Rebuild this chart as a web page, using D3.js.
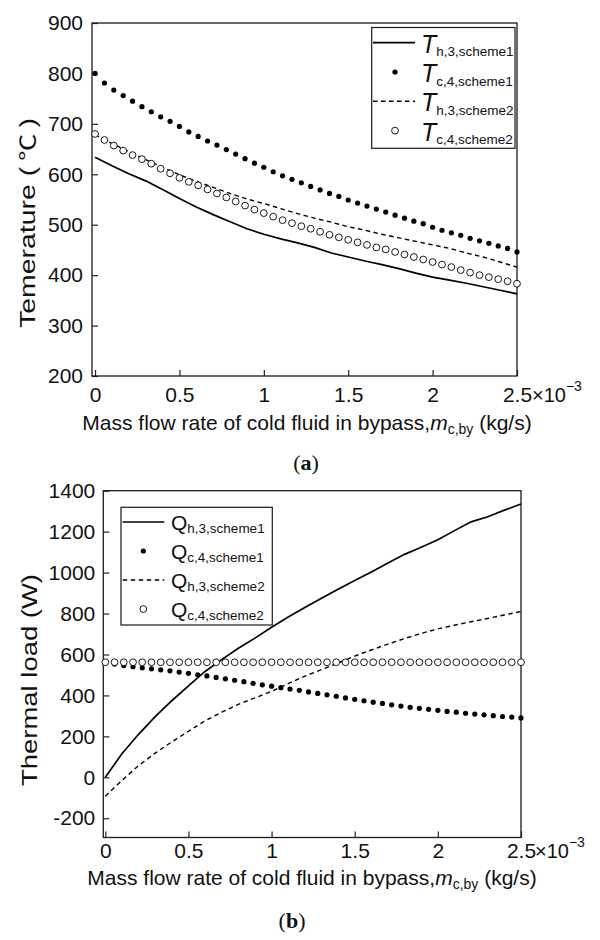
<!DOCTYPE html>
<meta charset="utf-8">
<html>
<head>
<script src="https://d3js.org/d3.v7.min.js"></script>
<style>
  body { margin: 0; background: #fff; }
  svg text { font-family: "Liberation Sans", Arial, sans-serif; fill: #111; }
</style>
</head>
<body>
<div id="chart"></div>
<script>
// x positions of the marker series and of the line series (x 10^-3 kg/s)
const dotX = [0, 0.0556, 0.1111, 0.1667, 0.2222, 0.2778, 0.3333, 0.3889, 0.4444, 0.5,
  0.5556, 0.6111, 0.6667, 0.7222, 0.7778, 0.8333, 0.8889, 0.9444, 1.0, 1.0556,
  1.1111, 1.1667, 1.2222, 1.2778, 1.3333, 1.3889, 1.4444, 1.5, 1.5556, 1.6111,
  1.6667, 1.7222, 1.7778, 1.8333, 1.8889, 1.9444, 2.0, 2.0556, 2.1111, 2.1667,
  2.2222, 2.2778, 2.3333, 2.3889, 2.4444, 2.5];
const lineX = [0, 0.1, 0.2, 0.3, 0.4, 0.5, 0.6, 0.7, 0.8, 0.9, 1.0, 1.1, 1.2, 1.3,
  1.4, 1.5, 1.6, 1.7, 1.8, 1.9, 2.0, 2.1, 2.2, 2.3, 2.4, 2.5];

// (a) temperatures, deg C
const Th3s1 = [634, 617, 601, 587, 570, 552, 535, 520, 506, 492, 481, 472, 464, 455,
  444, 436, 428, 421, 413, 404, 396, 390, 384, 377, 370, 363];
const Th3s2 = [678, 661, 645, 629, 614, 599, 586, 574, 562, 551, 542, 532, 522, 513,
  505, 496, 489, 481, 474, 467, 460, 453, 444, 436, 426, 416];
const Tc4s1 = [800, 781, 767, 756, 745, 734, 724, 714, 705, 695, 684, 675, 666, 658,
  649, 640, 631, 622, 614, 605, 597, 590, 583, 576, 569, 562, 556, 549, 543, 537,
  531, 525, 519, 513, 507, 502, 495, 489, 484, 479, 473, 468, 463, 458, 453, 446];
const Tc4s2 = [680, 668, 657, 647, 638, 630, 621, 611, 602, 593, 585, 578, 570, 562,
  554, 546, 538, 530, 523, 516, 509, 503, 497, 492, 486, 480, 475, 470, 465, 460,
  455, 451, 446, 441, 436, 431, 426, 421, 416, 410, 405, 400, 396, 392, 388, 383];

// (b) thermal loads, W
const Qh3s1 = [0, 115, 210, 296, 374, 447, 517, 575, 630, 680, 733, 783, 830, 875,
  919, 961, 1003, 1047, 1089, 1124, 1160, 1205, 1248, 1273, 1305, 1335];
const Qh3s2 = [-92, -15, 57, 118, 173, 225, 276, 318, 356, 388, 420, 458, 494, 526,
  558, 592, 622, 651, 678, 703, 725, 743, 760, 776, 793, 810];
const Qc4s1 = [560, 553, 546, 540, 535, 530, 525, 520, 514, 508, 501, 495, 488, 481,
  474, 467, 459, 452, 445, 438, 431, 425, 417, 410, 403, 396, 388, 381, 374, 367,
  361, 354, 348, 342, 337, 332, 327, 322, 318, 313, 309, 305, 301, 297, 294, 290];
const Qc4s2 = [562, 562, 562, 562, 562, 562, 562, 562, 562, 562, 562, 562, 562, 562,
  562, 562, 562, 562, 562, 562, 562, 562, 562, 562, 562, 562, 562, 562, 562, 562,
  562, 562, 562, 562, 562, 562, 562, 562, 562, 562, 562, 562, 562, 562, 562, 562];

const xTicks = [0, 0.5, 1, 1.5, 2, 2.5];
const yTicksA = [200, 300, 400, 500, 600, 700, 800, 900];
const yTicksB = [-200, 0, 200, 400, 600, 800, 1000, 1200, 1400];

const svg = d3.select("#chart").append("svg")
  .attr("width", 600).attr("height", 940);

const panels = [
  {
    left: 92, right: 517, top: 23, bottom: 376,
    xDomain: [-0.018, 2.5], yDomain: [200, 900], yTicks: yTicksA,
    xPad: 11, yPad: 9,
    yTitle: "Temerature (", yUnit: " \u2103 ", yTitleX: 35, yTitleY: 223, yTitleLen: 210,
    xTitleX: 307, xTitleY: 430, expX: 532,
    tag: "a", tagX: 306, tagY: 470,
    letter: "T", italic: true, letterSize: 25, subSize: 13.5, letterDy: 10, subDy: 3.5,
    box: {x0: 371.7, x1: 515, y0: 27.5, y1: 148.3},
    lg: {lineX0: 373, lineX1: 415, dotX: 395, textX: 421, row0: 42.7, step: 29.3},
    series: [
      {sub: "h,3,scheme1", kind: "solid", xs: lineX, ys: Th3s1},
      {sub: "c,4,scheme1", kind: "dot", xs: dotX, ys: Tc4s1},
      {sub: "h,3,scheme2", kind: "dash", xs: lineX, ys: Th3s2},
      {sub: "c,4,scheme2", kind: "circle", xs: dotX, ys: Tc4s2}
    ]
  },
  {
    left: 103.3, right: 521, top: 490.7, bottom: 837.5,
    xDomain: [-0.012, 2.5], yDomain: [-294, 1400], yTicks: yTicksB,
    xPad: 5.5, yPad: 8,
    yTitle: "Thermal load (W)", yUnit: null, yTitleX: 37, yTitleY: 680, yTitleLen: 212,
    xTitleX: 312, xTitleY: 885, expX: 535,
    tag: "b", tagX: 292, tagY: 928,
    letter: "Q", italic: false, letterSize: 21, subSize: 13.5, letterDy: 8, subDy: 2.5,
    box: {x0: 121, x1: 272.3, y0: 507.3, y1: 625},
    lg: {lineX0: 122.7, lineX1: 164.3, dotX: 143.3, textX: 171, row0: 522, step: 29},
    series: [
      {sub: "h,3,scheme1", kind: "solid", xs: lineX, ys: Qh3s1},
      {sub: "c,4,scheme1", kind: "dot", xs: dotX, ys: Qc4s1},
      {sub: "h,3,scheme2", kind: "dash", xs: lineX, ys: Qh3s2},
      {sub: "c,4,scheme2", kind: "circle", xs: dotX, ys: Qc4s2}
    ]
  }
];

panels.forEach(function(p) {
  const x = d3.scaleLinear().domain(p.xDomain).range([p.left, p.right]);
  const y = d3.scaleLinear().domain(p.yDomain).range([p.bottom, p.top]);

  // x axis, ticks pointing inward
  const gx = svg.append("g")
    .attr("transform", `translate(0,${p.bottom})`)
    .call(d3.axisBottom(x).tickValues(xTicks).tickSize(-6).tickPadding(p.xPad).tickFormat(d => String(d)));
  gx.select(".domain").remove();
  gx.selectAll("line").attr("stroke", "#222").attr("stroke-width", 1.2);
  gx.selectAll("text").attr("font-size", 21).attr("fill", "#111");

  // x10^-3 multiplier after the last tick label
  const exp = svg.append("text")
    .attr("x", p.expX).attr("y", p.bottom + p.xPad + 14.9)
    .attr("font-size", 20).text("\u00d710");
  exp.append("tspan").attr("font-size", 14).attr("dy", -11).text("\u22123");

  // y axis
  const gy = svg.append("g")
    .attr("transform", `translate(${p.left},0)`)
    .call(d3.axisLeft(y).tickValues(p.yTicks).tickSize(-6).tickPadding(p.yPad).tickFormat(d => String(d)));
  gy.select(".domain").remove();
  gy.selectAll("line").attr("stroke", "#222").attr("stroke-width", 1.2);
  gy.selectAll("text").attr("font-size", 21).attr("fill", "#111");

  // frame
  svg.append("rect")
    .attr("x", p.left).attr("y", p.top)
    .attr("width", p.right - p.left).attr("height", p.bottom - p.top)
    .attr("fill", "none").attr("stroke", "#1a1a1a").attr("stroke-width", 1.3);

  // series
  p.series.forEach(function(s) {
    const pts = s.xs.map((v, i) => [v, s.ys[i]]);
    if (s.kind === "solid" || s.kind === "dash") {
      svg.append("path")
        .datum(pts)
        .attr("fill", "none")
        .attr("stroke", "#000")
        .attr("stroke-width", s.kind === "solid" ? 1.7 : 1.4)
        .attr("stroke-dasharray", s.kind === "dash" ? "4.5,3.5" : null)
        .attr("d", d3.line().x(d => x(d[0])).y(d => y(d[1])));
    } else {
      svg.append("g")
        .selectAll("circle")
        .data(pts)
        .join("circle")
          .attr("cx", d => x(d[0]))
          .attr("cy", d => y(d[1]))
          .attr("r", s.kind === "dot" ? 2.6 : 3.4)
          .attr("fill", s.kind === "dot" ? "#000" : "#fff")
          .attr("stroke", s.kind === "dot" ? "none" : "#000")
          .attr("stroke-width", 0.9);
    }
  });

  // legend
  svg.append("rect")
    .attr("x", p.box.x0).attr("y", p.box.y0)
    .attr("width", p.box.x1 - p.box.x0).attr("height", p.box.y1 - p.box.y0)
    .attr("fill", "#fff").attr("stroke", "#1a1a1a").attr("stroke-width", 1.2);

  p.series.forEach(function(s, i) {
    const ry = p.lg.row0 + i * p.lg.step;
    if (s.kind === "solid" || s.kind === "dash") {
      svg.append("line")
        .attr("x1", p.lg.lineX0).attr("x2", p.lg.lineX1)
        .attr("y1", ry).attr("y2", ry)
        .attr("stroke", "#000")
        .attr("stroke-width", s.kind === "solid" ? 1.7 : 1.4)
        .attr("stroke-dasharray", s.kind === "dash" ? "4.5,3.5" : null);
    } else {
      svg.append("circle")
        .attr("cx", p.lg.dotX).attr("cy", ry)
        .attr("r", s.kind === "dot" ? 2.6 : 3.4)
        .attr("fill", s.kind === "dot" ? "#000" : "#fff")
        .attr("stroke", s.kind === "dot" ? "none" : "#000")
        .attr("stroke-width", 0.9);
    }
    const t = svg.append("text")
      .attr("x", p.lg.textX).attr("y", ry + p.letterDy)
      .attr("font-size", p.letterSize)
      .attr("font-style", p.italic ? "italic" : "normal")
      .text(p.letter);
    t.append("tspan")
      .attr("font-size", p.subSize).attr("font-style", "normal")
      .attr("dy", p.subDy)
      .text(s.sub);
  });

  // axis titles
  const yt = svg.append("text")
    .attr("transform", `translate(${p.yTitleX},${p.yTitleY}) rotate(-90)`)
    .attr("text-anchor", "middle")
    .attr("font-size", 22)
    .text(p.yTitle);
  if (p.yUnit) {
    yt.append("tspan").style("font-family", "'Noto Sans CJK SC', sans-serif")
      .attr("font-size", 21).text(p.yUnit);
    yt.append("tspan").text(")");
  }
  yt.attr("textLength", p.yTitleLen).attr("lengthAdjust", "spacingAndGlyphs");

  const xt = svg.append("text")
    .attr("x", p.xTitleX).attr("y", p.xTitleY)
    .attr("text-anchor", "middle").attr("font-size", 21)
    .text("Mass flow rate of cold fluid in bypass,");
  xt.append("tspan").attr("font-style", "italic").text("m");
  xt.append("tspan").attr("font-size", 14).attr("dy", 4).text("c,by");
  xt.append("tspan").attr("dy", -4).text(" (kg/s)");

  // panel tag
  const tg = svg.append("text")
    .attr("x", p.tagX).attr("y", p.tagY)
    .attr("text-anchor", "middle").attr("font-size", 22)
    .style("font-family", "'Liberation Serif', 'Times New Roman', serif")
    .text("(");
  tg.append("tspan").attr("font-weight", "bold").text(p.tag);
  tg.append("tspan").text(")");
});
</script>
</body>
</html>
